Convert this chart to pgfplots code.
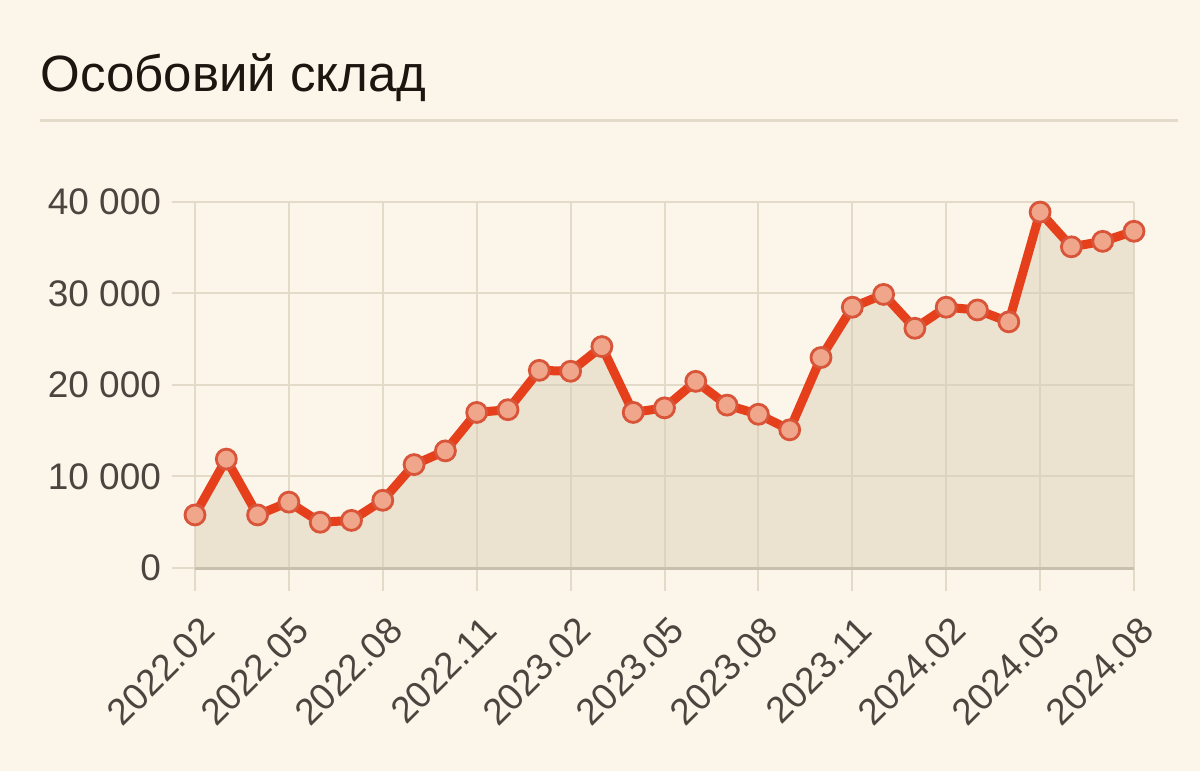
\documentclass[border=0pt]{standalone}
\usepackage{pgfplots}
\pgfplotsset{compat=1.18}
\usepackage{fontspec}
\setmainfont{Liberation Sans}
\definecolor{bg}{HTML}{FCF5EA}
\definecolor{gridc}{HTML}{E3DACA}
\definecolor{basec}{HTML}{C9BFAE}
\definecolor{areac}{HTML}{D8CBB2}
\definecolor{linec}{HTML}{E5401B}
\definecolor{ringc}{HTML}{D9553A}
\definecolor{ringf}{HTML}{F0A68A}
\definecolor{labc}{HTML}{4A453F}
\definecolor{titc}{HTML}{1C1510}
\pgfplotstableread{
x y
0 5800
1 11900
2 5800
3 7200
4 5000
5 5200
6 7400
7 11300
8 12800
9 17000
10 17300
11 21600
12 21500
13 24200
14 17000
15 17500
16 20400
17 17800
18 16800
19 15100
20 23000
21 28500
22 29900
23 26200
24 28500
25 28200
26 26900
27 38900
28 35100
29 35700
30 36800
}\datatable
\begin{document}
\begin{tikzpicture}
\fill[bg] (0,0) rectangle (600bp,385.5bp);
\node[anchor=base west, inner sep=0pt, font=\fontsize{25.5bp}{29bp}\selectfont, text=titc] at (20bp,339.5bp) {Особовий склад};
\draw[gridc, line width=1.5bp] (20bp,325bp) -- (589bp,325bp);
\begin{axis}[
  at={(97.5bp,101.5bp)}, anchor=south west,
  scale only axis, width=469.5bp, height=183bp,
  xmin=0, xmax=30, ymin=0, ymax=40000,
  axis line style={draw=none},
  grid=major, major grid style={gridc, line width=1bp},
  tick align=outside, major tick length=11.5bp,
  tick style={gridc, line width=1bp},
  xtick pos=bottom, ytick pos=left,
  xtick={0,3,...,30},
  xticklabels={2022.02,2022.05,2022.08,2022.11,2023.02,2023.05,2023.08,2023.11,2024.02,2024.05,2024.08},
  ytick={0,10000,20000,30000,40000},
  yticklabels={0,10 000,20 000,30 000,40 000},
  scaled y ticks=false,
  ticklabel style={font=\fontsize{18.5bp}{21bp}\selectfont, text=labc},
  yticklabel style={xshift=-2bp},
  xticklabel style={xshift=9bp, yshift=-14bp, rotate=45, anchor=east},
  clip=false,
]
\addplot[draw=none, fill=areac, fill opacity=0.45] table[x=x,y=y] {\datatable} \closedcycle;
\draw[basec, line width=1.5bp] (axis cs:0,0) -- (axis cs:30,0);
\addplot[only marks, mark=*, mark size=5bp, mark options={draw=ringc, line width=1.4bp, fill=ringf}] table[x=x,y=y] {\datatable};
\addplot[linec, line width=4.5bp, line join=round, line cap=round] table[x=x,y=y] {\datatable};
\end{axis}
\end{tikzpicture}
\end{document}
